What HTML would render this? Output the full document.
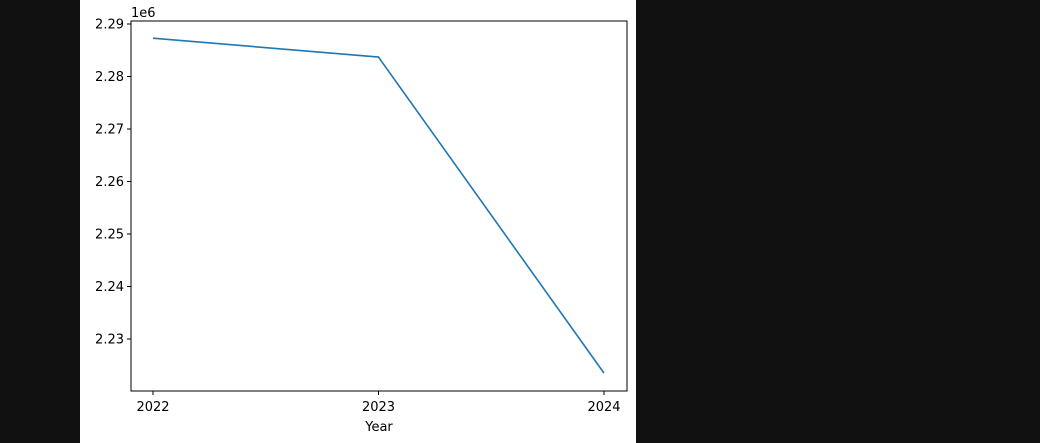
<!DOCTYPE html>
<html><head><meta charset="utf-8"><style>
html,body{margin:0;padding:0;background:#111111;width:1040px;height:443px;overflow:hidden}
svg{display:block;font-family:"DejaVu Sans","Liberation Sans",sans-serif}
</style></head><body>
<svg id="chart" width="1040" height="443">
<rect x="80" y="0" width="556" height="443" fill="#ffffff"/>
<g id="plot"></g>
</svg>
<script>
const years = [2022, 2023, 2024];
const values = [2287300, 2283700, 2223500];
const yTicks = [2230000, 2240000, 2250000, 2260000, 2270000, 2280000, 2290000];
const yTickLabels = ["2.23", "2.24", "2.25", "2.26", "2.27", "2.28", "2.29"];

const NS = "http://www.w3.org/2000/svg";
const g = document.getElementById('plot');
const L = 131, R = 627, T = 21, B = 391;
function xs(v){ return 153 + (v - 2022) / 2 * (604 - 153); }
function ys(v){ return 339 - (v - 2230000) / 10000 * 52.5; }
function mk(tag, attrs){ const e = document.createElementNS(NS, tag); for (const k in attrs) e.setAttribute(k, attrs[k]); g.appendChild(e); return e; }

const frame = mk('rect', {x:L, y:T, width:R-L, height:B-T, fill:'none', stroke:'#000', 'stroke-width':1});



yTicks.forEach((t, i) => {
  const y = ys(t);
  const tk = mk('line', {x1:L-4, x2:L, y1:y, y2:y, stroke:'#000'});
  
  
  const tx = mk('text', {x:L-7, y:y+4.5, 'text-anchor':'end', 'font-size':13, fill:'#000'});
  tx.textContent = yTickLabels[i];
  
  
});
years.forEach(yr => {
  const x = xs(yr);
  const tk = mk('line', {x1:x, x2:x, y1:B, y2:B+4, stroke:'#000'});
  
  
  const tx = mk('text', {x:x, y:B+20, 'text-anchor':'middle', 'font-size':13, fill:'#000'});
  tx.textContent = String(yr);
  
  
});
const off = mk('text', {x:L, y:17, 'font-size':13, fill:'#000'});
off.textContent = '1e6';


const xl = mk('text', {x:(L+R)/2, y:431, 'text-anchor':'middle', 'font-size':13, fill:'#000'});
xl.textContent = 'Year';



const pts = years.map((yr, i) => xs(yr) + ',' + ys(values[i])).join(' ');
const line = mk('polyline', {points:pts, fill:'none', stroke:'#1f77b4', 'stroke-width':1.6});


</script>
</body></html>
